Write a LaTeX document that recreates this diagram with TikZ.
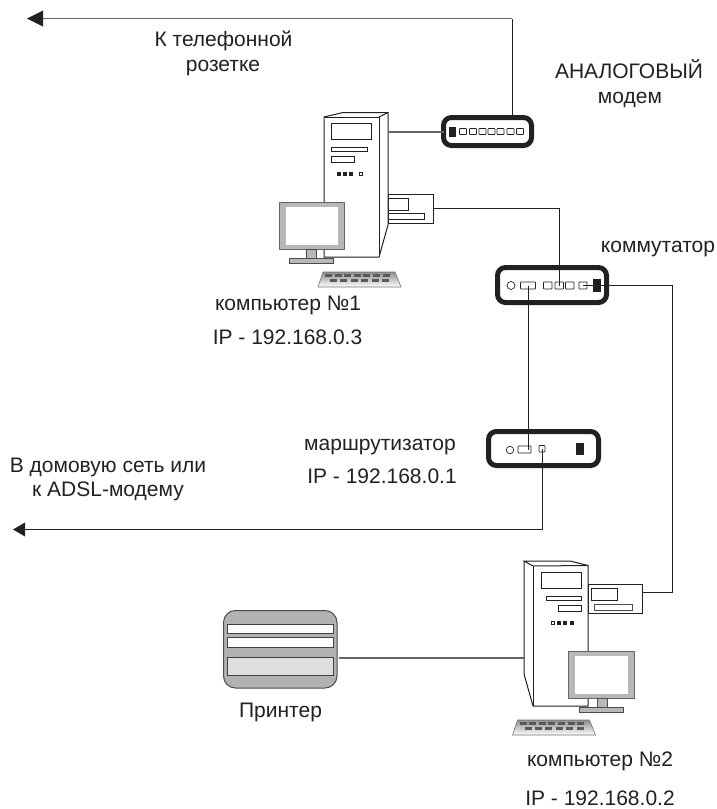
\documentclass[tikz,border=0pt]{standalone}
\usepackage{fontspec}
\setmainfont{Liberation Sans}
\definecolor{ln}{gray}{0.13}
\definecolor{mon}{gray}{0.72}
\definecolor{prn}{gray}{0.70}
\definecolor{prl}{gray}{0.87}
\tikzset{
  wire/.style={draw=ln,line width=0.8pt},
  wiregray/.style={draw=black!60,line width=1.2pt},
  shell/.style={draw=ln,line width=1pt,fill=white,line join=miter},
  thin part/.style={draw=ln,line width=0.8pt,fill=white},
  device/.style={draw=ln,line width=5pt,rounded corners=8pt,fill=white},
  port/.style={draw=ln,line width=0.7pt,fill=white,rounded corners=0.6pt},
  blackport/.style={draw=ln,fill=ln,line width=0.4pt},
  lbl/.style={font=\fontsize{21}{21}\selectfont,inner sep=0pt,text=ln,anchor=base},
  bigtip/.style={fill=ln,draw=none}
}
% box node: name, x1,y1,x2,y2, style
\newcommand{\bx}[6]{%
  \pgfmathsetmacro{\bw}{#4-#2}\pgfmathsetmacro{\bh}{#5-#3}%
  \node[#6,anchor=north west,inner sep=0pt,outer sep=0pt,minimum width=\bw pt,minimum height=\bh pt] (#1) at (#2,#3) {};}
% keyboard at x-origin / y-origin
\newcommand{\kbd}[2]{%
  \begin{scope}[shift={(#1,#2)}]
    \path[top color=black!45,bottom color=white,draw=black!55,line width=0.6pt]
      (0,15) -- (5,0) -- (77,0) -- (83,15) -- cycle;
    \foreach \k in {0,...,6}{\fill[black!65] (7+\k*9.6,1.5) rectangle ++(7,3.2);}
    \foreach \k in {0,...,5}{\fill[black!65] (12+\k*10.4,6.5) rectangle ++(7,3.2);}
  \end{scope}}
\begin{document}
\begin{tikzpicture}[x=1pt,y=-1pt]
\useasboundingbox (0,0) rectangle (717,809);
\fill[white] (0,0) rectangle (717,809);

% ===== devices =====
\bx{modem}{443.5}{117.5}{531.5}{145.5}{device}
\bx{switch}{497.5}{267.5}{606.5}{302.5}{device}
\bx{router}{488.5}{431.5}{598.5}{465.5}{device}

% modem ports
\bx{mblack}{449}{127}{455}{136}{blackport}
\foreach \i/\xx in {1/459.5,2/469.5,3/479,4/488,5/497,6/507,7/516.5}{
  \bx{mp\i}{\xx}{128.5}{\xx+7}{134.5}{port}}

% switch ports
\node[port,circle,minimum size=8pt,inner sep=0pt] (scirc) at (511,285.5) {};
\bx{srect}{520.5}{282}{535.5}{289}{port}
\bx{s1}{543.5}{282}{552}{289}{port}
\bx{s2}{555}{282}{563.5}{289}{port}
\bx{s3}{565.5}{282}{574}{289}{port}
\bx{s4}{579}{282}{587}{289}{port}

% router ports
\node[port,circle,minimum size=7.5pt,inner sep=0pt] (rcirc) at (510,450) {};
\bx{rrect}{518}{446}{531}{453}{port}
\bx{rsq}{539}{445.5}{545}{452}{port}
\bx{rblack}{576}{443}{583}{454}{blackport}

% ===== computer 1 =====
\bx{card1}{388}{194}{433}{223}{thin part}
\draw[thin part] (388,198) rectangle (408,210);
\draw[thin part] (388,213) rectangle (424,219);
\draw[shell] (324,117) -- (343,112.5) -- (388,112.5) -- (388,225) -- (379,257) -- (324,257) -- cycle;
\draw[shell] (324,117) -- (379,117) -- (379,257);
\draw[shell] (379,117) -- (388,112.5);
\coordinate (tower1port) at (388,132);
\draw[thin part] (331,123.5) rectangle (371,139.5);
\draw[thin part] (331,147) rectangle (367,151);
\draw[thin part] (331,156.5) rectangle (354,162);
\foreach \xx in {339,345,351}{\fill[ln] (\xx-2,172) rectangle (\xx+2,176);}
\draw[thin part,line width=0.6pt] (359,172.5) rectangle (362.5,175.5);
% monitor 1
\draw[draw=black!60,fill=mon,line width=0.6pt] (279,202) rectangle (344,249);
\fill[white] (285.5,207) rectangle (337.5,244.5);
\draw[draw=black!70,fill=mon,line width=0.6pt] (306,249) rectangle (316,258);
\draw[draw=black!70,fill=mon,line width=0.6pt] (289,258) rectangle (333,263);
\kbd{318}{272}

% ===== computer 2 =====
\bx{card2}{588}{584}{642}{613}{thin part}
\draw[thin part,line width=1pt] (591,588) rectangle (617,600.5);
\draw[thin part,draw=black!70] (594.5,604) rectangle (632,610);
\draw[shell] (533,566) -- (524,561) -- (570,561) -- (588,565.5) -- (588,706) -- (533,706) -- (524,674) -- (524,561);
\draw[shell] (533,566) -- (588,565.5);
\draw[shell] (533,566) -- (533,706);
\coordinate (tower2left) at (524,658);
\draw[thin part] (541,572.5) rectangle (581,588);
\draw[thin part] (546,596) rectangle (581,600);
\draw[thin part] (558,605.5) rectangle (581,611);
\draw[thin part,line width=0.6pt] (551,621) rectangle (554,624.5);
\foreach \xx in {558.5,564.5,572}{\fill[ln] (\xx-2,620.5) rectangle (\xx+2,625);}
% monitor 2
\draw[draw=black!60,fill=mon,line width=0.6pt] (568.5,651) rectangle (634,698.5);
\fill[white] (575,656) rectangle (628,694);
\draw[draw=black!70,fill=mon,line width=0.6pt] (597,698.5) rectangle (607,707);
\draw[draw=black!70,fill=mon,line width=0.6pt] (579.5,707) rectangle (623,712);
\kbd{512.5}{720}

% ===== printer =====
\bx{printer}{223.5}{610.5}{337}{688}{fill=prn,draw=black!70,line width=1pt,rounded corners=12pt}
\draw[draw=black!75,fill=white,line width=1pt] (227.5,624) rectangle (333.5,633);
\draw[draw=black!75,fill=white,line width=1pt] (227.5,637.5) rectangle (333.5,647);
\draw[draw=black!75,fill=prl,line width=1pt] (227.5,657) rectangle (333.5,675);

% ===== connectors =====
\coordinate (phone) at (42,18.5);
\coordinate (corner1) at (512,18.5);
\coordinate (modemtop) at (512,115);
\draw[wire] (modemtop) -- (corner1);
\draw[wiregray] (corner1) -- (phone);
\fill[bigtip] (43,10.5) -- (27,18.5) -- (43,26.5) -- cycle;

\draw[wiregray] (tower1port) -- (modem.west |- tower1port);

\coordinate (c1) at (s2.north |- card1.east);
\draw[wire] (card1.east) -- (c1) -- (s2.center);
\coordinate (swr) at (672,285.5);
\coordinate (card2wire) at (642,592);
\draw[wire] (s4.center) -- (swr) -- (swr |- card2wire) -- (card2wire);
\bx{sblack}{593.5}{279.5}{600}{291}{blackport}
\draw[wire] (srect.center) -- (srect.center |- rrect.center);

\coordinate (home) at (24,529.5);
\coordinate (homecorner) at (rsq.center |- home);
\draw[wire] (rsq.center) -- (homecorner) -- (home);
\fill[bigtip] (25,522.5) -- (13,529.5) -- (25,536.5) -- cycle;

\draw[wiregray] (printer.east |- tower2left) ++(2,0) -- (tower2left);

% ===== labels =====
\node[lbl] (t1) at (223.5,46) {К телефонной};
\node[lbl] (t2) at (223,71) {розетке};
\node[lbl] (t3) at (629,78) {АНАЛОГОВЫЙ};
\node[lbl] (t4) at (630,103) {модем};
\node[lbl] (t5) at (658,252) {коммутатор};
\node[lbl] (t6) at (288,310) {компьютер №1};
\node[lbl] (t7) at (287.5,344) {IP - 192.168.0.3};
\node[lbl] (t8) at (380,450) {маршрутизатор};
\node[lbl] (t9) at (382,483) {IP - 192.168.0.1};
\node[lbl] (t10) at (108,472) {В домовую сеть или};
\node[lbl] (t11) at (108,496) {к ADSL-модему};
\node[lbl] (t12) at (280.5,717) {Принтер};
\node[lbl] (t13) at (600,766) {компьютер №2};
\node[lbl] (t14) at (600,805) {IP - 192.168.0.2};
\end{tikzpicture}
\end{document}
